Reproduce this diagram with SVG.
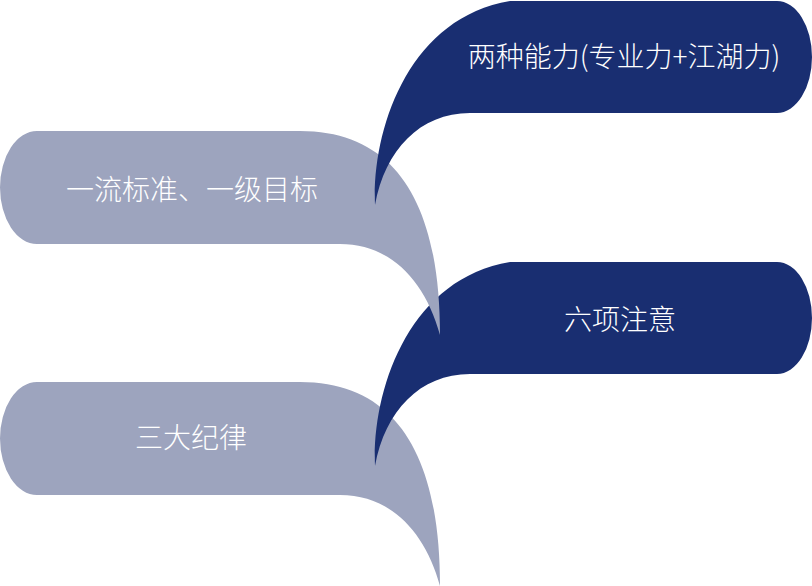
<svg xmlns="http://www.w3.org/2000/svg" width="812" height="586" viewBox="0 0 812 586">
<style>
.dark{fill:#192e71}
.light{fill:#9da4be}
.lbl{fill:#ffffff;font-family:"Noto Sans CJK SC","Noto Sans",sans-serif;font-size:28px;font-weight:300;text-anchor:middle}
</style>
<defs>
<path id="darkShape" d="M 510,1 L 777,1 A 35 56 0 0 1 777,113 L 470,113 C 420,113 385,150 375,205 C 372,130 408,18 510,1 Z"/>
<path id="lightShape" d="M 37,131 L 300,131 C 400,131 440,210 440,335 C 425,280 390,244 340,244 L 37,244 A 37 56.5 0 0 1 37,131 Z"/>
</defs>
<rect width="812" height="586" fill="#ffffff"/>
<g id="node-sanda">
<use href="#lightShape" class="light" transform="translate(0,251)"/>
<text class="lbl" x="191" y="448">三大纪律</text>
</g>
<g id="node-liuxiang">
<use href="#darkShape" class="dark" transform="translate(0,261)"/>
<text class="lbl" x="620" y="330">六项注意</text>
</g>
<g id="node-yiliu">
<use href="#lightShape" class="light"/>
<text class="lbl" x="192" y="200">一流标准、一级目标</text>
</g>
<g id="node-liangzhong">
<use href="#darkShape" class="dark"/>
<text class="lbl" x="624" y="67">两种能力(专业力+江湖力)</text>
</g>
<g id="connectors"></g>
</svg>
